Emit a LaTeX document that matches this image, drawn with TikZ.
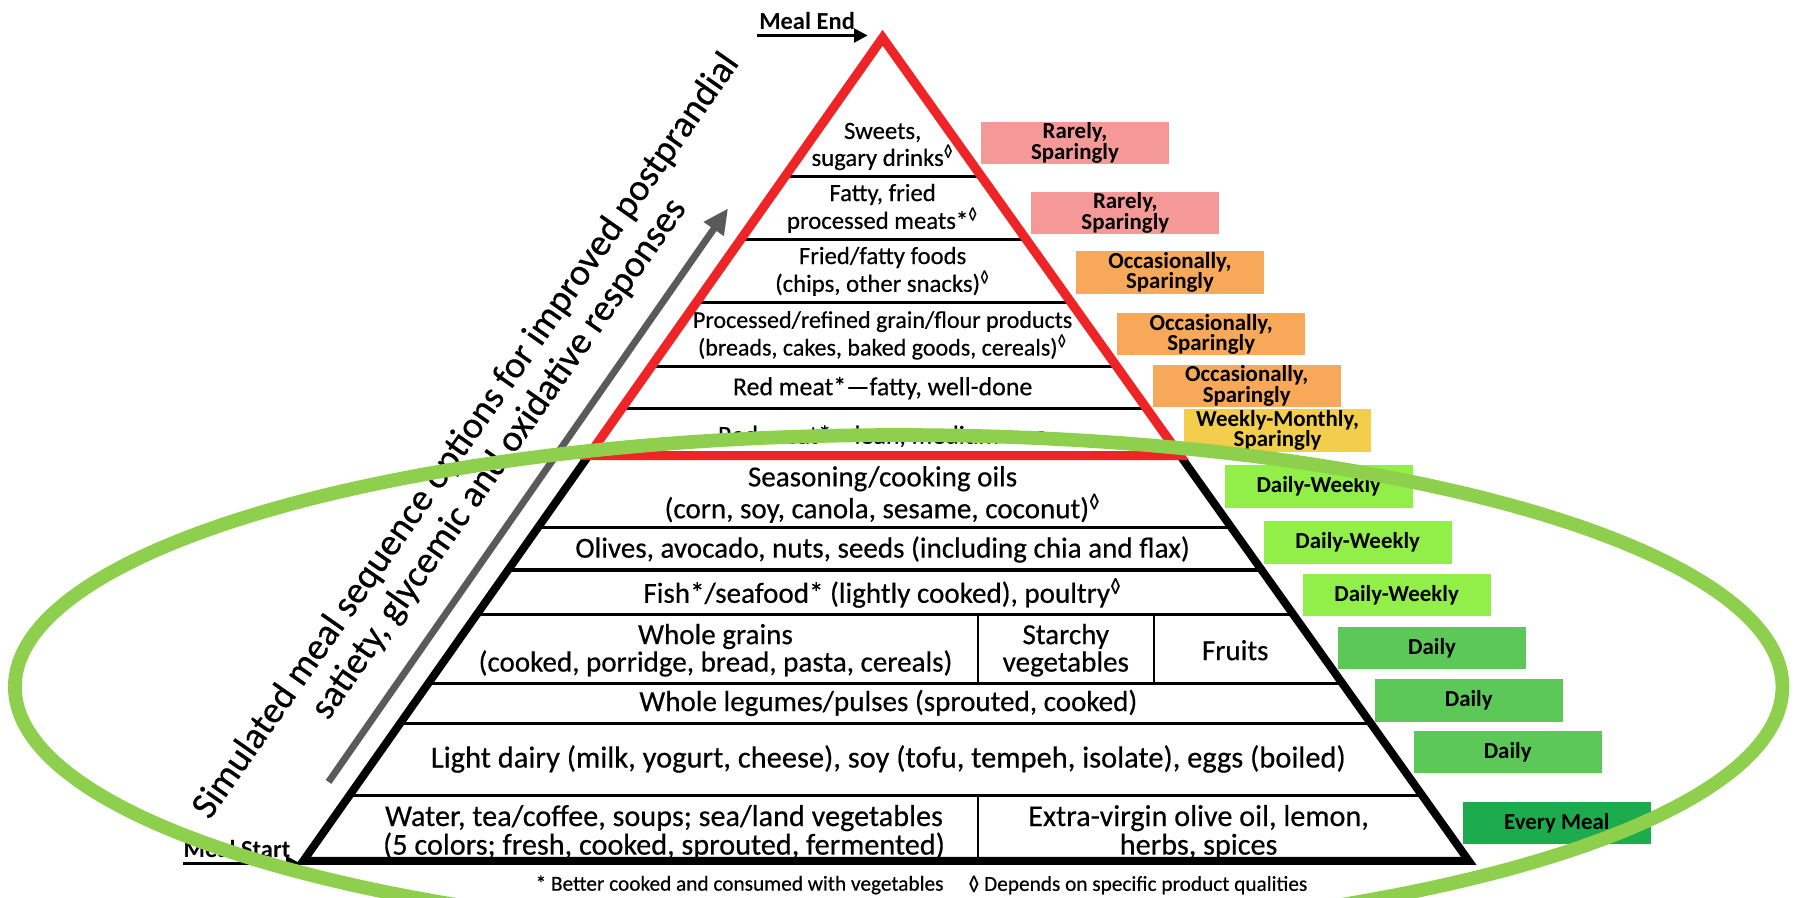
\documentclass[tikz,border=0pt]{standalone}
\usepackage{fontspec}
\setmainfont{Carlito}
\newfontfamily\rowfont{Carlito}[FakeBold=0.45]
\usetikzlibrary{calc,arrows.meta}
\definecolor{pyrred}{RGB}{238,36,38}
\definecolor{cpink}{RGB}{244,152,152}
\definecolor{corange}{RGB}{247,168,88}
\definecolor{cyellow}{RGB}{242,206,76}
\definecolor{clgreen}{RGB}{146,238,72}
\definecolor{cmgreen}{RGB}{92,200,88}
\definecolor{cdgreen}{RGB}{28,172,78}
\definecolor{ellgreen}{RGB}{142,208,78}
\definecolor{arrgray}{RGB}{90,90,90}
\newcommand{\dm}{\textsuperscript{◊}}
\begin{document}
\begin{tikzpicture}[x=0.5pt,y=-0.5pt,
  toprow/.style={align=center,inner sep=0pt,font=\rowfont\fontsize{10.8}{10.5}\selectfont},
  botrow/.style={align=center,inner sep=0pt,font=\rowfont\fontsize{12.7}{12}\selectfont},
  freqbox/.style={fill=#1,minimum width=82pt,minimum height=18.5pt,inner sep=0pt,align=center,font=\bfseries\fontsize{10}{9}\selectfont},
  tier/.style={line width=1.5pt},
  divider/.style={line width=1pt},
  mealtxt/.style={font=\bfseries\fontsize{10.7}{12}\selectfont,inner sep=0pt},
  mealarrow/.style={line width=1.2pt,-{Triangle[length=6pt,width=6pt]}},
  fnote/.style={font=\rowfont\fontsize{9.3}{10}\selectfont,inner sep=0pt}
]
\useasboundingbox (0,0) rectangle (1568,784);
\fill[white] (0,0) rectangle (1568,784);

\coordinate (A) at (771,33);
\coordinate (BL) at (265,752);
\coordinate (BR) at (1283,752);
\foreach \n/\y in {1/154,2/209,3/264,4/320,5/357,6/398,7/461,8/498,9/537,10/597,11/632,12/695}{
  \coordinate (L\n) at ($(A)!{(\y-33)/719}!(BL)$);
  \coordinate (R\n) at ($(A)!{(\y-33)/719}!(BR)$);
}
\foreach \n in {1,2,3,4,5,7,8,9,10,11,12}{
  \draw[tier] (L\n) -- (R\n);
}
% dividers
\coordinate (d1t) at (854,537); \coordinate (d1b) at (854,597);
\coordinate (d2t) at (1008,537); \coordinate (d2b) at (1008,597);
\coordinate (d3t) at (854,695); \coordinate (d3b) at (854,752);
\draw[divider] (d1t) -- (d1b);
\draw[divider] (d2t) -- (d2b);
\draw[divider] (d3t) -- (d3b);

\draw[line width=3.5pt,line join=miter] (L6) -- (BL) -- (BR) -- (R6);
\draw[pyrred,line width=4pt,line join=miter] (A) -- (L6) -- (R6) -- cycle;

% tier texts
\node[toprow] (t1) at (771,128) {Sweets,\\sugary drinks\dm};
\node[toprow] (t2) at (771,182) {Fatty, fried\\processed meats*\dm};
\node[toprow] (t3) at (771,237) {Fried/fatty foods\\(chips, other snacks)\dm};
\node[toprow,font=\rowfont\fontsize{10.5}{10.5}\selectfont] (t4) at (771,293) {Processed/refined grain/flour products\\(breads, cakes, baked goods, cereals)\dm};
\node[toprow,font=\rowfont\fontsize{11.3}{11}\selectfont] (t5) at (771,339) {Red meat*—fatty, well-done};
\node[toprow,font=\rowfont\fontsize{11.3}{11}\selectfont] (t6) at (771,381) {Red meat*—lean, medium rare};
\node[botrow] (b1) at (771,432) {Seasoning/cooking oils\\(corn, soy, canola, sesame, coconut)\dm};
\node[botrow] (b2) at (771,480) {Olives, avocado, nuts, seeds (including chia and flax)};
\node[botrow] (b3) at (771,518) {Fish*/seafood* (lightly cooked), poultry\dm};
\node[botrow] (b4) at (625,568) {Whole grains\\(cooked, porridge, bread, pasta, cereals)};
\node[botrow] (b5) at (931,568) {Starchy\\vegetables};
\node[botrow] (b6) at (1079,568) {Fruits};
\node[botrow] (b7) at (776,614) {Whole legumes/pulses (sprouted, cooked)};
\node[botrow,font=\rowfont\fontsize{13.3}{12}\selectfont] (b8) at (776,663) {Light dairy (milk, yogurt, cheese), soy (tofu, tempeh, isolate), eggs (boiled)};
\node[botrow,font=\rowfont\fontsize{13.2}{12.5}\selectfont] (b9) at (580,727) {Water, tea/coffee, soups; sea/land vegetables\\(5 colors; fresh, cooked, sprouted, fermented)};
\node[botrow,font=\rowfont\fontsize{13.2}{12.5}\selectfont] (b10) at (1047,727) {Extra-virgin olive oil, lemon,\\herbs, spices};

% frequency boxes
\node[freqbox=cpink] (f1) at (939,125) {Rarely,\\Sparingly};
\node[freqbox=cpink] (f2) at (983,186) {Rarely,\\Sparingly};
\node[freqbox=corange] (f3) at (1022,238) {Occasionally,\\Sparingly};
\node[freqbox=corange] (f4) at (1058,292) {Occasionally,\\Sparingly};
\node[freqbox=corange] (f5) at (1089,337) {Occasionally,\\Sparingly};
\node[freqbox=cyellow] (f6) at (1116,376) {Weekly-Monthly,\\Sparingly};
\node[freqbox=clgreen] (f7) at (1152,425) {Daily-Weekly};
\node[freqbox=clgreen] (f8) at (1186,474) {Daily-Weekly};
\node[freqbox=clgreen] (f9) at (1220,520) {Daily-Weekly};
\node[freqbox=cmgreen] (f10) at (1251,566) {Daily};
\node[freqbox=cmgreen] (f11) at (1283,612) {Daily};
\node[freqbox=cmgreen] (f12) at (1317,657) {Daily};
\node[freqbox=cdgreen] (f13) at (1360,719) {Every Meal};

% meal end / start
\node[mealtxt] (me) at (705,18) {Meal End};
\coordinate (meS) at (661,31);
\coordinate (meE) at (758,31);
\draw[mealarrow] (meS) -- (meE);
\node[mealtxt] (ms) at (207,742) {Meal Start};
\coordinate (msS) at (160,754);
\coordinate (msE) at (262,754);
\draw[mealarrow] (msS) -- (msE);

% gray arrow and title
\coordinate (gaS) at (287,683);
\coordinate (gaE) at (636,182);
\draw[arrgray,line width=3pt,-{Triangle[length=11pt,width=10pt]}] (gaS) -- (gaE);
\node[rotate=55,align=center,inner sep=0pt,font=\rowfont\fontsize{16.5}{17.5}\selectfont] (title) at (422,391)
  {Simulated meal sequence options for improved postprandial\\satiety, glycemic and oxidative responses};

% footnotes
\node[fnote] (fn1) at (646,773) {* Better cooked and consumed with vegetables};
\node[fnote] (fn2) at (994,773) {◊ Depends on specific product qualities};

% green ellipse
\draw[ellgreen,line width=6pt] (785,600) ellipse [x radius=772,y radius=220];
\end{tikzpicture}
\end{document}
